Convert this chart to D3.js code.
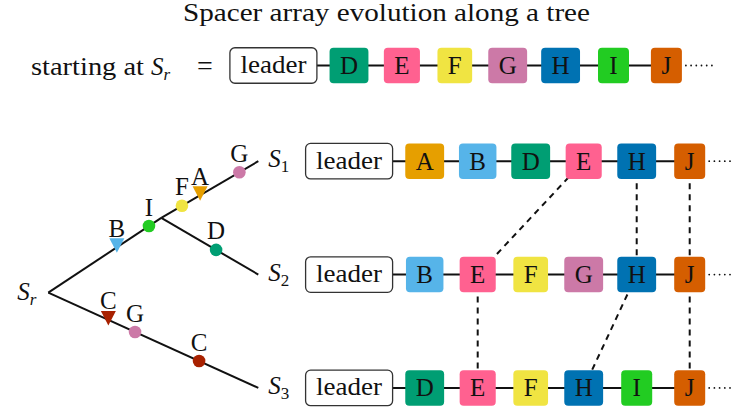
<!DOCTYPE html>
<html><head><meta charset="utf-8">
<script src="https://cdn.jsdelivr.net/npm/d3@7"></script>
<style>
body{margin:0;background:#fff}
svg{display:block}
</style>
</head><body>
<svg id="chart" width="733" height="411"></svg>
<script>
// ---------------- data ----------------
const titleText = "Spacer array evolution along a tree";
const startArray = ["D","E","F","G","H","I","J"];
const rowArrays = [
  ["A","B","D","E","H","J"],
  ["B","E","F","G","H","J"],
  ["D","E","F","H","I","J"]
];
const rowLabels = ["1","2","3"];
const spacerColors = {A:"#E69F00",B:"#56B4E9",C:"#A82100",D:"#009E73",E:"#FF6190",
                      F:"#F0E442",G:"#CC79A7",H:"#0072B2",I:"#22CC22",J:"#D55E00"};
// shared spacers linked between consecutive arrays [rowA, rowB, spacer]
const links = [[0,1,"E"],[0,1,"H"],[0,1,"J"],[1,2,"E"],[1,2,"H"],[1,2,"J"]];
// tree nodes: [depth, lane]
const treeNodes = {root:[0,1.16], split:[0.538,0.5], S1:[1,0], S2:[1,1], S3:[1,2]};
const treeEdges = [["root","split"],["split","S1"],["split","S2"],["root","S3"]];
// events along edges: gain = triangle, loss = circle
const events = [
  {edge:0,t:0.607,letter:"B",kind:"gain"},
  {edge:0,t:0.891,letter:"I",kind:"loss"},
  {edge:1,t:0.213,letter:"F",kind:"loss"},
  {edge:1,t:0.400,letter:"A",kind:"gain"},
  {edge:1,t:0.805,letter:"G",kind:"loss"},
  {edge:2,t:0.565,letter:"D",kind:"loss"},
  {edge:3,t:0.286,letter:"C",kind:"gain"},
  {edge:3,t:0.413,letter:"G",kind:"loss"},
  {edge:3,t:0.718,letter:"C",kind:"loss"}
];

// ---------------- layout ----------------
const FONT = "'Liberation Serif', 'DejaVu Serif', serif";
const svg = d3.select("#chart").attr("font-family",FONT).style("font-family",FONT);
const FS = 25;
const treeX = d3.scaleLinear().domain([0,1]).range([48.3,258.3]);
const laneY = d3.scaleLinear().domain([0,2]).range([161.2,387.9]);
const rowSlotX = d3.scaleLinear().domain([0,1]).range([424.7,477.7]);
const topSlotX = d3.scaleLinear().domain([0,1]).range([349,401.9]);
const topY = 65.5;
const boxH = 35.5, leaderW = 87, leaderGap = 75.6;

function T(g){ return g.append("text").style("font-family",FONT).attr("fill","#111"); }

// measure text width
const meas = T(svg).attr("font-size",FS).attr("opacity",0);
function tw(s){ meas.text(s); return meas.node().getComputedTextLength(); }
const boxW = l => Math.max(31, tw(l) + 20.8);

// title
T(svg).attr("x",386.5).attr("y",21).attr("text-anchor","middle")
  .attr("font-size",FS).attr("textLength",407).attr("lengthAdjust","spacingAndGlyphs")
  .text(titleText);

// "starting at S_r ="
T(svg).attr("x",31).attr("y",74.5).attr("font-size",FS)
  .attr("textLength",113).attr("lengthAdjust","spacingAndGlyphs").text("starting at");
const sr = T(svg).attr("x",151).attr("y",74.5).attr("font-size",FS);
sr.append("tspan").attr("font-style","italic").text("S");
sr.append("tspan").attr("font-style","italic").attr("font-size",17).attr("dy",5).text("r");
T(svg).attr("x",197).attr("y",74.5).attr("font-size",28).text("=");

const gLinks = svg.append("g");
const gRows = svg.append("g");

function drawArray(g, letters, xs, cy){
  const lx = xs(0) - leaderGap;
  const last = letters.length - 1;
  const lastW = boxW(letters[last]);
  g.append("line").attr("x1",lx).attr("x2",xs(last)).attr("y1",cy).attr("y2",cy)
    .attr("stroke","#111").attr("stroke-width",2);
  g.append("line").attr("x1",xs(last)+lastW/2+4).attr("x2",xs(last)+lastW/2+30)
    .attr("y1",cy).attr("y2",cy).attr("stroke","#111").attr("stroke-width",1.8)
    .attr("stroke-linecap","round").attr("stroke-dasharray","0 5.2");
  g.append("rect").attr("x",lx-leaderW/2).attr("y",cy-boxH/2).attr("width",leaderW).attr("height",boxH)
    .attr("rx",5).attr("fill","#fff").attr("stroke","#333").attr("stroke-width",1.3);
  T(g).attr("x",lx).attr("y",cy+7.5).attr("text-anchor","middle").attr("font-size",FS)
    .attr("textLength",66).attr("lengthAdjust","spacingAndGlyphs").text("leader");
  const b = g.selectAll("g.box").data(letters).join("g").attr("class","box")
    .attr("transform",(d,i)=>`translate(${xs(i)},${cy})`);
  b.append("rect").attr("x",d=>-boxW(d)/2).attr("y",-boxH/2).attr("width",d=>boxW(d)).attr("height",boxH)
    .attr("rx",4).attr("fill",d=>spacerColors[d]);
  b.append("text").style("font-family",FONT).attr("fill","#111")
    .attr("y",8.3).attr("text-anchor","middle").attr("font-size",FS).text(d=>d);
}

drawArray(gRows.append("g"), startArray, topSlotX, topY);
rowArrays.forEach((arr,r)=> drawArray(gRows.append("g"), arr, rowSlotX, laneY(r)));

// dashed links (center to center, under boxes)
links.forEach(([ra,rb,s])=>{
  const ia = rowArrays[ra].indexOf(s), ib = rowArrays[rb].indexOf(s);
  gLinks.append("line").attr("x1",rowSlotX(ia)).attr("y1",laneY(ra))
    .attr("x2",rowSlotX(ib)).attr("y2",laneY(rb))
    .attr("stroke","#111").attr("stroke-width",2).attr("stroke-dasharray","6 5");
});

// tree
const gTree = svg.append("g");
const P = k => [treeX(treeNodes[k][0]), laneY(treeNodes[k][1])];
treeEdges.forEach(([a,b])=>{
  const pa=P(a), pb=P(b);
  gTree.append("line").attr("x1",pa[0]).attr("y1",pa[1]).attr("x2",pb[0]).attr("y2",pb[1])
    .attr("stroke","#111").attr("stroke-width",2);
});
events.forEach(e=>{
  const [a,b] = treeEdges[e.edge];
  const pa=P(a), pb=P(b);
  const x = pa[0]+(pb[0]-pa[0])*e.t, y = pa[1]+(pb[1]-pa[1])*e.t;
  if(e.kind==="gain"){
    gTree.append("path").attr("d",`M${x-7.5},${y-9}L${x+7.5},${y-9}L${x},${y+5.5}Z`)
      .attr("fill",spacerColors[e.letter]);
  } else {
    gTree.append("circle").attr("cx",x).attr("cy",y).attr("r",6.3).attr("fill",spacerColors[e.letter]);
  }
  T(gTree).attr("x",x).attr("y",y-10.5).attr("text-anchor","middle")
    .attr("font-size",FS).text(e.letter);
});
// S labels
["S1","S2","S3"].forEach((k,i)=>{
  const p=P(k);
  const t=T(gTree).attr("x",p[0]+10).attr("y",p[1]+6).attr("font-size",FS);
  t.append("tspan").attr("font-style","italic").text("S");
  t.append("tspan").attr("font-size",17).attr("dy",5).text(rowLabels[i]);
});
const pr=P("root");
const tr=T(gTree).attr("x",pr[0]-12).attr("y",pr[1]+7.5).attr("font-size",FS).attr("text-anchor","end");
tr.append("tspan").attr("font-style","italic").text("S");
tr.append("tspan").attr("font-style","italic").attr("font-size",17).attr("dy",5).text("r");
meas.remove();
</script>
</body></html>
